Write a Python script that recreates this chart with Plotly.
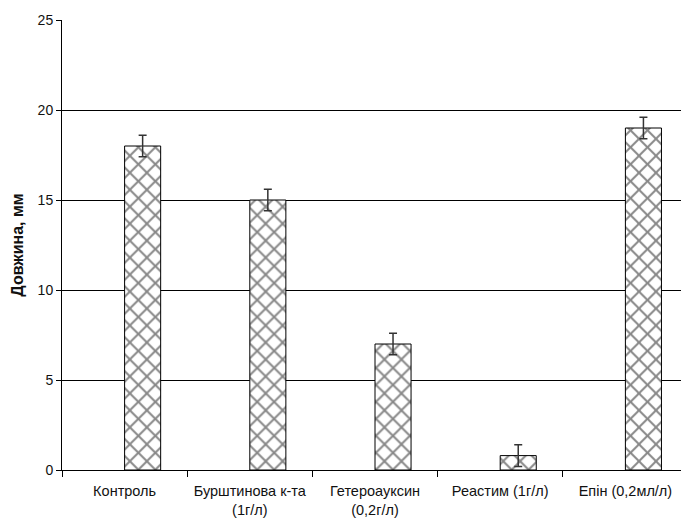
import plotly.graph_objects as go

categories = ["Контроль", "Бурштинова к-та<br>(1г/л)", "Гетероауксин<br>(0,2г/л)",
              "Реастим (1г/л)", "Епін (0,2мл/л)"]
values = [18.0, 15.0, 7.0, 0.8, 19.0]
errors = [0.6, 0.6, 0.6, 0.6, 0.6]
y_ticks = [0, 5, 10, 15, 20, 25]

fig = go.Figure()
fig.add_trace(go.Bar(
    x=categories, y=values,
    marker=dict(color="white",
                line=dict(color="black", width=1),
                pattern=dict(shape="x", size=12, solidity=0.3,
                             fgcolor="#111111", bgcolor="white", fillmode="overlay")),
    error_y=dict(type="data", array=errors, visible=True,
                 color="#333333", thickness=1.5, width=4),
    width=0.288, offset=0,
))

fig.update_layout(
    width=681, height=519,
    margin=dict(l=54, r=1, t=12, b=57),
    plot_bgcolor="white", paper_bgcolor="white",
    showlegend=False,
    font=dict(family="Liberation Sans, Arial", size=13, color="#111111"),
)
fig.update_xaxes(
    showline=True, linecolor="black", linewidth=1,
    ticks="outside", ticklen=6, tickcolor="black", tickson="boundaries",
    tickangle=0, automargin=False, ticklabelstandoff=8,
    tickfont=dict(size=14.5),
    showgrid=False,
)
fig.update_yaxes(
    range=[0, 25], tickvals=y_ticks,
    showline=True, linecolor="black", linewidth=1,
    ticks="outside", ticklen=5, tickcolor="black",
    showgrid=True, gridcolor="black", gridwidth=1,
    zeroline=False, automargin=False,
    tickfont=dict(size=14),
    title=dict(text="<b>Довжина, мм</b>", standoff=10,
               font=dict(family="Liberation Sans, Arial", size=16)),
)

fig.write_html("out.html")
